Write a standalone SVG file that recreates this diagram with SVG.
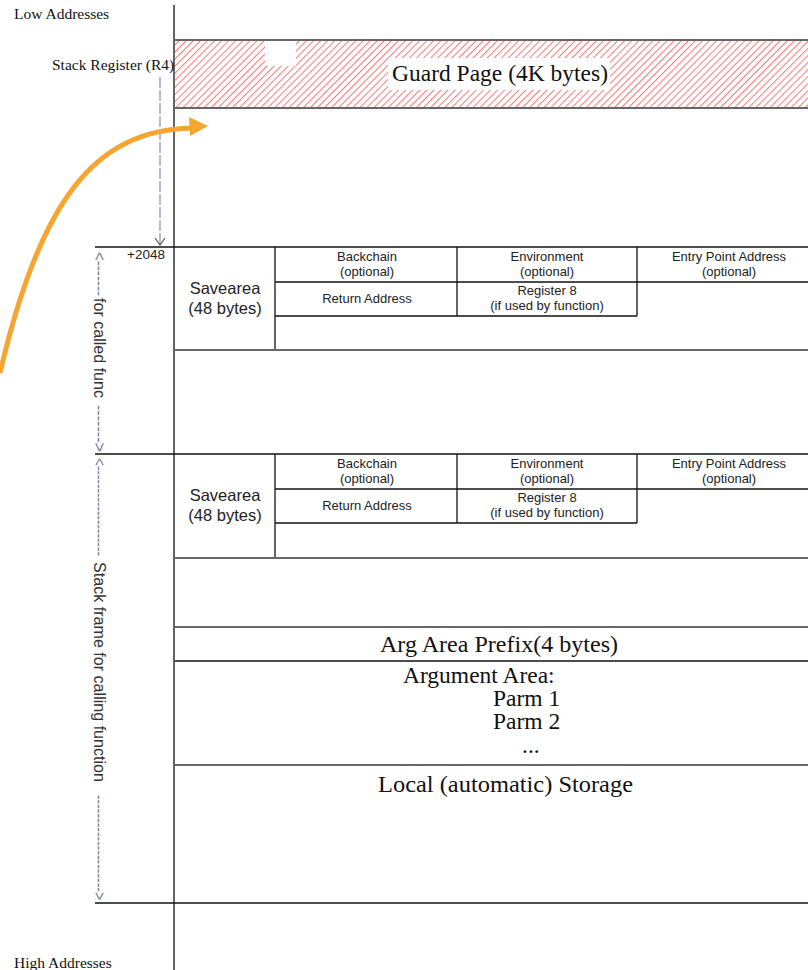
<svg xmlns="http://www.w3.org/2000/svg" width="808" height="970" viewBox="0 0 808 970">
<defs>
<pattern id="hatch" patternUnits="userSpaceOnUse" width="5" height="5" patternTransform="rotate(45)">
<line x1="0" y1="0" x2="0" y2="5" stroke="#ff4a4a" stroke-width="1.5"/>
</pattern>
</defs>
<style>
.serif{font-family:"Liberation Serif","Times New Roman",serif;fill:#111}
.sans{font-family:"Liberation Sans",Arial,sans-serif;fill:#222}
.cell{font-family:"Liberation Sans",Arial,sans-serif;fill:#222;font-size:13px;text-anchor:middle}
.blk{stroke:#111;stroke-width:1.3;fill:none}
.gry{stroke:#666;stroke-width:2;fill:none}
.vlab{font-family:"Liberation Sans",Arial,sans-serif;fill:#333;font-size:16px}
.dash{font-family:"Liberation Sans",Arial,sans-serif;fill:#6b7f95;font-size:16px}
</style>
<rect width="808" height="970" fill="#fff"/>

<g id="axis">
<line class="blk" x1="174" y1="5" x2="174" y2="970"/>
<text class="serif" x="14" y="19" font-size="15.5">Low Addresses</text>
<text class="serif" x="14" y="968" font-size="15.5">High Addresses</text>
</g>

<g id="guard-page">
<rect x="175" y="41" width="633" height="67" fill="url(#hatch)"/>
<rect x="265" y="41" width="31" height="25" fill="#fff"/>
<rect x="388" y="58" width="222" height="32" fill="#fff"/>
<line class="gry" x1="175" y1="40" x2="808" y2="40"/>
<line class="gry" x1="175" y1="108" x2="808" y2="108"/>
<text class="serif" x="392" y="81" font-size="23" textLength="216" lengthAdjust="spacingAndGlyphs">Guard Page (4K bytes)</text>
</g>

<g id="stack-register">
<text class="serif" x="52" y="70" font-size="15.5">Stack Register (R4)</text>
</g>

<g id="frame-called">
<line class="blk" x1="95" y1="247" x2="808" y2="247"/>
<text class="sans" x="127" y="259" font-size="13.5">+2048</text>
<line class="blk" x1="275" y1="247" x2="275" y2="350"/>
<line class="blk" x1="275" y1="282" x2="808" y2="282"/>
<line class="blk" x1="275" y1="316" x2="637" y2="316"/>
<line class="blk" x1="457" y1="247" x2="457" y2="316"/>
<line class="blk" x1="637" y1="247" x2="637" y2="316"/>
<line class="gry" x1="175" y1="350" x2="808" y2="350"/>
<text class="sans" x="225" y="294" font-size="16.5" text-anchor="middle">Savearea</text>
<text class="sans" x="225" y="314" font-size="16.5" text-anchor="middle">(48 bytes)</text>
<text class="cell" x="367" y="261">Backchain</text>
<text class="cell" x="367" y="276">(optional)</text>
<text class="cell" x="547" y="261">Environment</text>
<text class="cell" x="547" y="276">(optional)</text>
<text class="cell" x="729" y="261">Entry Point Address</text>
<text class="cell" x="729" y="276">(optional)</text>
<text class="cell" x="367" y="303">Return Address</text>
<text class="cell" x="547" y="295">Register 8</text>
<text class="cell" x="547" y="310" font-size="12.3">(if used by function)</text>
</g>

<g id="frame-calling">
<line class="blk" x1="95" y1="454" x2="808" y2="454"/>
<line class="blk" x1="275" y1="454" x2="275" y2="558"/>
<line class="blk" x1="275" y1="489" x2="808" y2="489"/>
<line class="blk" x1="275" y1="523" x2="637" y2="523"/>
<line class="blk" x1="457" y1="454" x2="457" y2="523"/>
<line class="blk" x1="637" y1="454" x2="637" y2="523"/>
<line class="gry" x1="175" y1="558" x2="808" y2="558"/>
<text class="sans" x="225" y="501" font-size="16.5" text-anchor="middle">Savearea</text>
<text class="sans" x="225" y="521" font-size="16.5" text-anchor="middle">(48 bytes)</text>
<text class="cell" x="367" y="468">Backchain</text>
<text class="cell" x="367" y="483">(optional)</text>
<text class="cell" x="547" y="468">Environment</text>
<text class="cell" x="547" y="483">(optional)</text>
<text class="cell" x="729" y="468">Entry Point Address</text>
<text class="cell" x="729" y="483">(optional)</text>
<text class="cell" x="367" y="510">Return Address</text>
<text class="cell" x="547" y="502">Register 8</text>
<text class="cell" x="547" y="517" font-size="12.3">(if used by function)</text>
<line class="gry" x1="175" y1="627" x2="808" y2="627"/>
<text class="serif" x="380" y="652" font-size="23.5" textLength="238" lengthAdjust="spacingAndGlyphs">Arg Area Prefix(4 bytes)</text>
<line class="blk" x1="175" y1="661" x2="808" y2="661"/>
<text class="serif" x="403" y="683" font-size="23.5">Argument Area:</text>
<text class="serif" x="493" y="706" font-size="23.5">Parm 1</text>
<text class="serif" x="493" y="729" font-size="23.5">Parm 2</text>
<text class="serif" x="522" y="753" font-size="23.5">...</text>
<line class="gry" x1="175" y1="765" x2="808" y2="765"/>
<text class="serif" x="378" y="792" font-size="23.5" textLength="255" lengthAdjust="spacingAndGlyphs">Local (automatic) Storage</text>
<line class="blk" x1="95" y1="903" x2="808" y2="903"/>
</g>

<g id="label-called" transform="translate(94,0) rotate(90)">
<text class="dash" x="252" y="0" textLength="44" lengthAdjust="spacingAndGlyphs">&lt;-------</text>
<text class="vlab" x="298" y="0" textLength="100" lengthAdjust="spacingAndGlyphs">for called func</text>
<text class="dash" x="405" y="0" textLength="47" lengthAdjust="spacingAndGlyphs">-------&gt;</text>
</g>

<g id="label-calling" transform="translate(94,0) rotate(90)">
<text class="dash" x="458" y="0" textLength="98" lengthAdjust="spacingAndGlyphs">&lt;--------------------</text>
<text class="vlab" x="562" y="0" textLength="220" lengthAdjust="spacingAndGlyphs">Stack frame for calling function</text>
<text class="dash" x="795" y="0" textLength="105" lengthAdjust="spacingAndGlyphs">---------------------&gt;</text>
</g>

<g id="connectors">
<line x1="160" y1="77" x2="160" y2="245" stroke="#8593a3" stroke-width="1.2" stroke-dasharray="11 2"/>
<polyline points="155,238 160,245 165,238" fill="none" stroke="#556" stroke-width="1.2"/>
<path d="M0,373 C40,200 95,130 192,128" fill="none" stroke="#f7a531" stroke-width="5"/>
<polygon points="189,117 208,126 190,136" fill="#f7a531"/>
</g>
</svg>
